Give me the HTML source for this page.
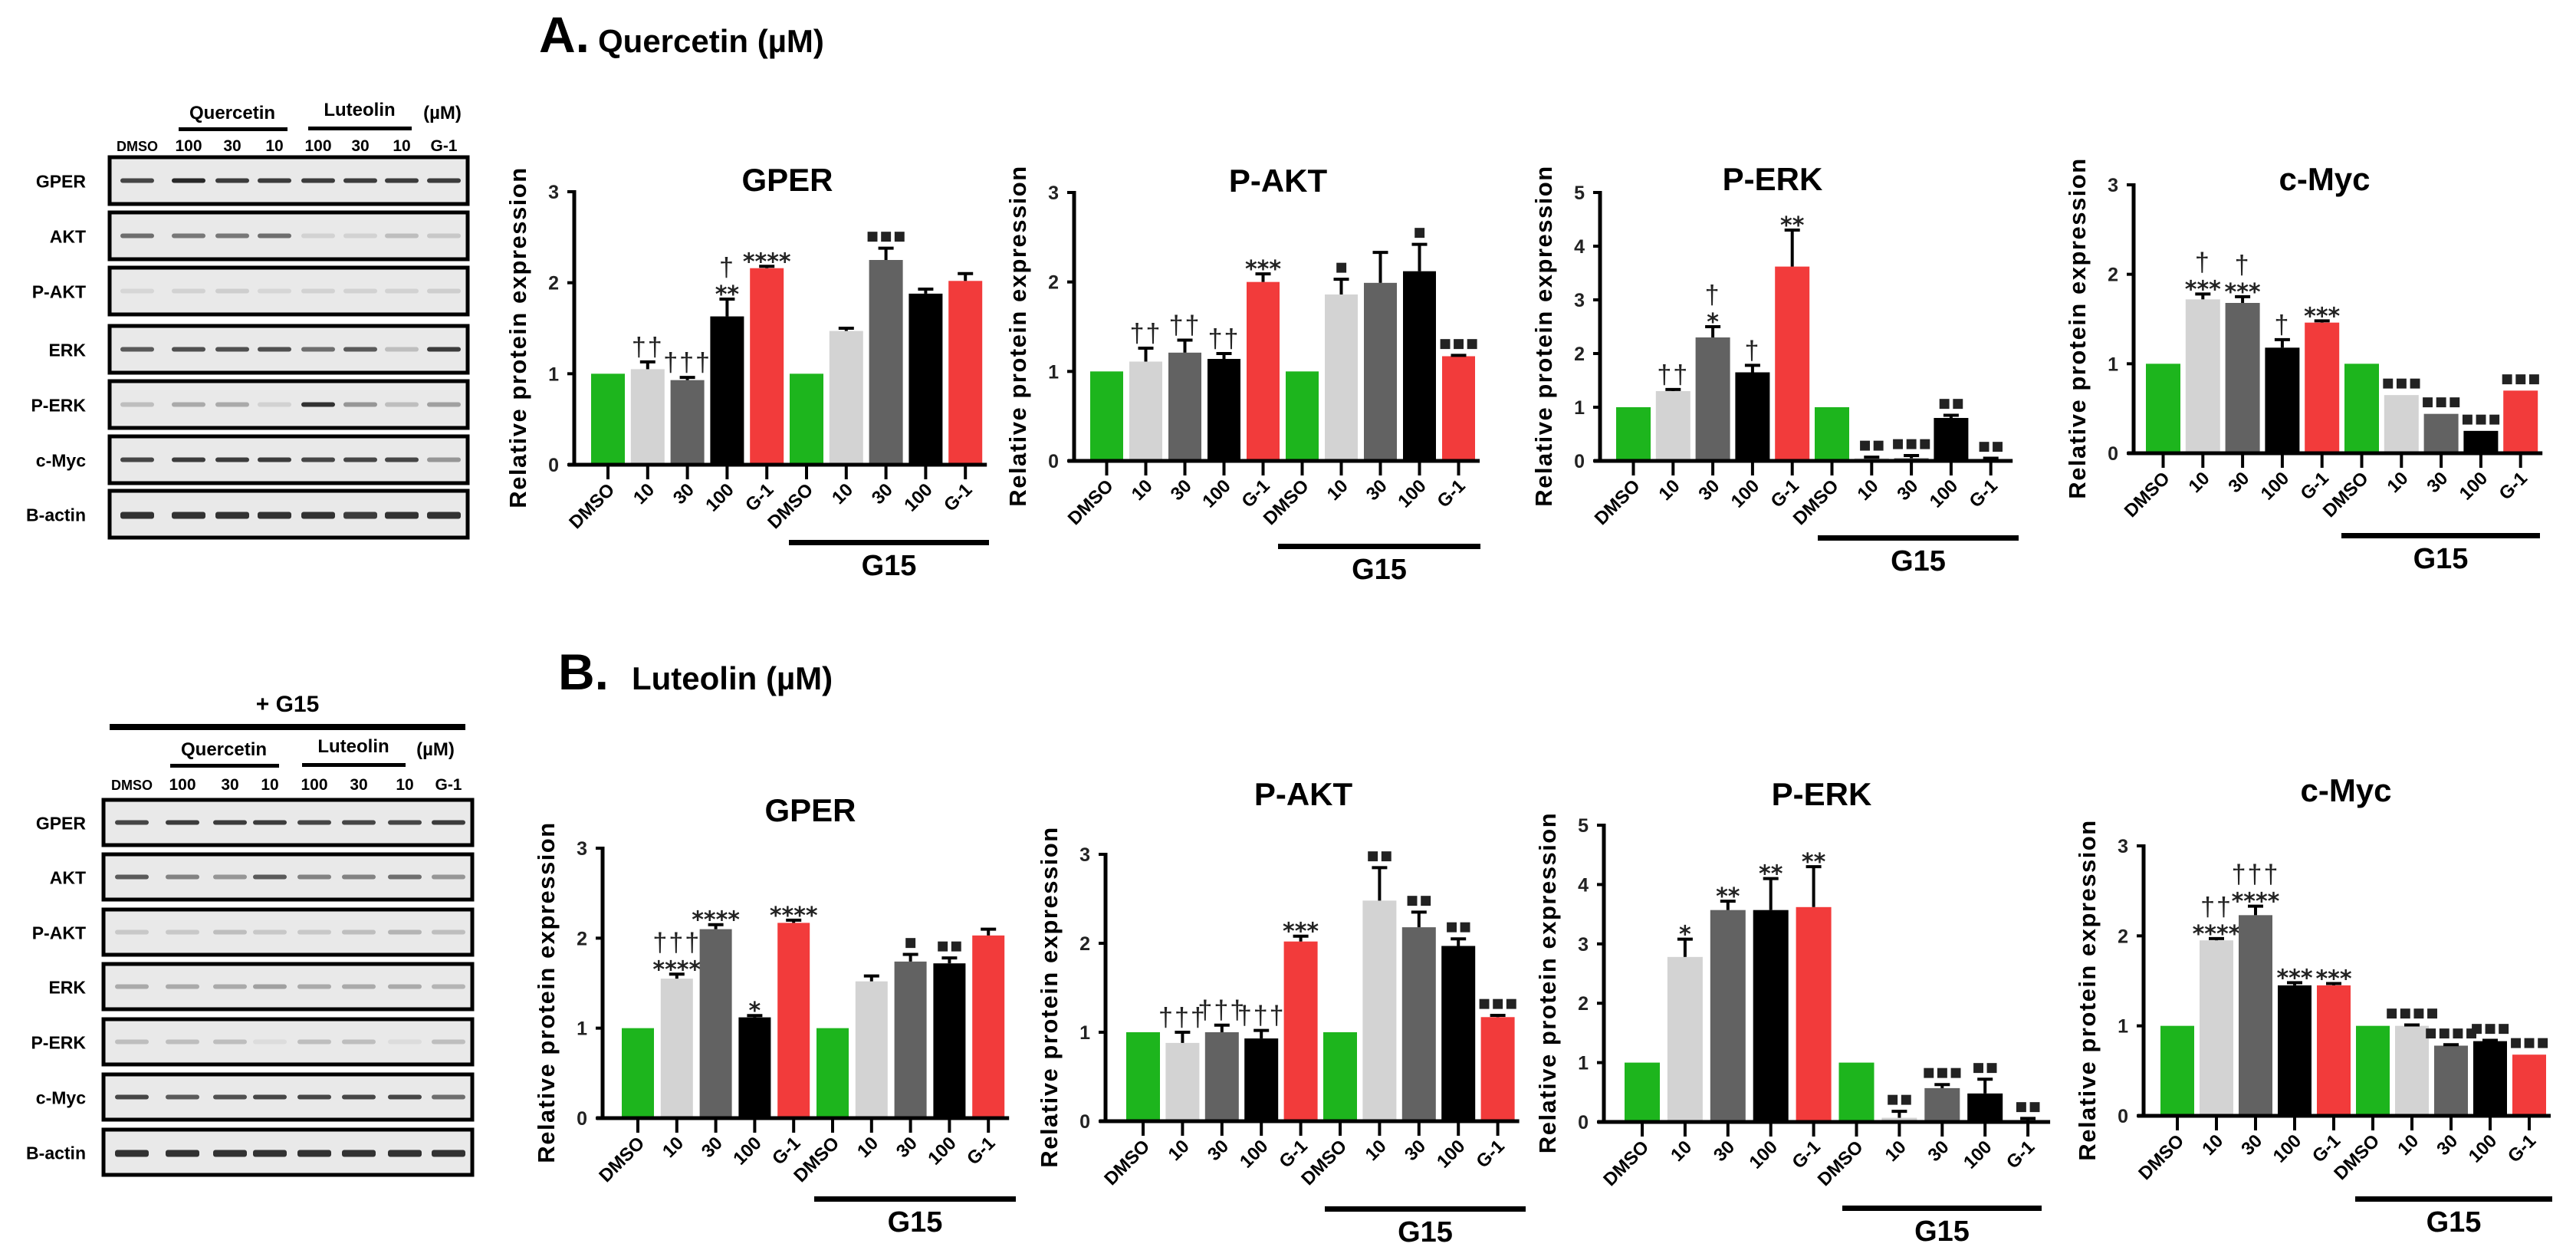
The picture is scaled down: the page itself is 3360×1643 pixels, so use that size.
<!DOCTYPE html>
<html><head><meta charset="utf-8"><style>
html,body{margin:0;padding:0;background:#fff;}
svg{display:block;font-family:"Liberation Sans",Arial,sans-serif;}
</style></head><body>
<svg id="fig" width="3360" height="1643" viewBox="0 0 3360 1643" xmlns="http://www.w3.org/2000/svg">
<rect x="0" y="0" width="3360" height="1643" fill="#fff"/>
<text x="703" y="68" font-size="66" font-weight="bold">A.</text>
<text x="780" y="68" font-size="42" font-weight="bold">Quercetin (µM)</text>
<text x="728" y="899" font-size="66" font-weight="bold">B.</text>
<text x="824" y="899" font-size="42" font-weight="bold">Luteolin (µM)</text>
<g id="blots"></g>
<g id="charts"></g>
</svg>
<script>
// ---------- chart data ----------
const categories = ["DMSO","10","30","100","G-1","DMSO","10","30","100","G-1"];
const barColors = ["#1db51d","#d3d3d3","#626262","#000000","#f23b3b","#1db51d","#d3d3d3","#626262","#000000","#f23b3b"];
const yTicks3 = ["0","1","2","3"];
const yTicks5 = ["0","1","2","3","4","5"];

const aGperVals = [1,1.05,0.93,1.63,2.16,1,1.47,2.25,1.88,2.02];
const aGperErr  = [0,0.08,0.03,0.19,0.02,0,0.03,0.13,0.05,0.08];
const aGperStar = ["","††","†††","**","****","","","▪▪▪","",""];
const aGperTop  = ["","","","†","","","","","",""];

const aPaktVals = [1,1.11,1.21,1.14,2.0,1,1.86,1.99,2.12,1.17];
const aPaktErr  = [0,0.15,0.14,0.06,0.09,0,0.17,0.34,0.3,0.01];
const aPaktStar = ["","††","††","††","***","","▪","","▪","▪▪▪"];
const aPaktTop  = ["","","","","","","","","",""];

const aPerkVals = [1,1.3,2.3,1.65,3.62,1,0.05,0.05,0.8,0.03];
const aPerkErr  = [0,0.03,0.2,0.13,0.68,0,0.02,0.05,0.05,0.02];
const aPerkStar = ["","††","*","†","**","","▪▪","▪▪▪","▪▪","▪▪"];
const aPerkTop  = ["","","†","","","","","","",""];

const aMycVals = [1,1.72,1.68,1.18,1.46,1,0.65,0.44,0.25,0.7];
const aMycErr  = [0,0.06,0.07,0.09,0.02,0,0,0,0,0];
const aMycStar = ["","***","***","†","***","","▪▪▪","▪▪▪","▪▪▪","▪▪▪"];
const aMycTop  = ["","†","†","","","","","","",""];

const bGperVals = [1,1.55,2.1,1.12,2.17,1,1.52,1.74,1.72,2.03];
const bGperErr  = [0,0.05,0.05,0.02,0.03,0,0.06,0.08,0.06,0.07];
const bGperStar = ["","****","****","*","****","","","▪","▪▪",""];
const bGperTop  = ["","†††","","","","","","","",""];

const bPaktVals = [1,0.88,1.0,0.93,2.02,1,2.48,2.18,1.97,1.17];
const bPaktErr  = [0,0.12,0.08,0.09,0.06,0,0.37,0.17,0.08,0.02];
const bPaktStar = ["","†††","†††","†††","***","","▪▪","▪▪","▪▪","▪▪▪"];
const bPaktTop  = ["","","","","","","","","",""];

const bPerkVals = [1,2.78,3.57,3.57,3.62,1,0.07,0.57,0.48,0.03];
const bPerkErr  = [0,0.3,0.15,0.53,0.68,0,0.11,0.06,0.24,0.03];
const bPerkStar = ["","*","**","**","**","","▪▪","▪▪▪","▪▪","▪▪"];
const bPerkTop  = ["","","","","","","","","",""];

const bMycVals = [1,1.95,2.23,1.45,1.45,1,1.0,0.78,0.83,0.68];
const bMycErr  = [0,0.02,0.1,0.03,0.02,0,0.01,0.01,0.01,0];
const bMycStar = ["","****","****","***","***","","▪▪▪▪","▪▪▪▪","▪▪▪","▪▪▪"];
const bMycTop  = ["","††","†††","","","","","","",""];

// ---------- blot data ----------
const blotRows = ["GPER","AKT","P-AKT","ERK","P-ERK","c-Myc","B-actin"];
const laneLabels = ["DMSO","100","30","10","100","30","10","G-1"];
const blotAIntensity = [
 [0.8,0.95,0.85,0.85,0.85,0.85,0.85,0.85],
 [0.6,0.55,0.55,0.6,0.1,0.1,0.2,0.15],
 [0.08,0.1,0.12,0.08,0.1,0.1,0.1,0.12],
 [0.7,0.75,0.75,0.75,0.6,0.7,0.2,0.85],
 [0.2,0.3,0.3,0.1,0.9,0.4,0.2,0.35],
 [0.8,0.85,0.85,0.85,0.8,0.8,0.8,0.4],
 [0.9,0.9,0.9,0.9,0.9,0.85,0.9,0.9]];
const blotBIntensity = [
 [0.8,0.85,0.85,0.85,0.8,0.8,0.8,0.85],
 [0.7,0.5,0.4,0.7,0.5,0.5,0.6,0.4],
 [0.15,0.15,0.2,0.15,0.15,0.2,0.25,0.2],
 [0.3,0.3,0.3,0.35,0.3,0.3,0.3,0.25],
 [0.2,0.2,0.2,0.05,0.2,0.2,0.05,0.2],
 [0.8,0.7,0.75,0.8,0.8,0.8,0.8,0.6],
 [0.9,0.9,0.9,0.9,0.9,0.9,0.9,0.9]];

const NS="http://www.w3.org/2000/svg";
function mk(tag, attrs, parent){const e=document.createElementNS(NS,tag);for(const k in attrs)e.setAttribute(k,attrs[k]);parent.appendChild(e);return e;}

// ---------- blots ----------
const blotG=document.getElementById('blots');
function drawBlot(cfg, intens){
  const g=mk('g',{},blotG);
  
  
  if(cfg.g15){
    const t=mk('text',{x:375,y:cfg.g15y,'font-size':30,'font-weight':'bold','text-anchor':'middle'},g);t.textContent='+ G15';
    
    
    mk('rect',{x:143,y:cfg.g15y+16,width:464,height:8,fill:'#000'},g);
  }
  const q=mk('text',{x:cfg.qx,y:cfg.hy,'font-size':24,'font-weight':'bold','text-anchor':'middle'},g);q.textContent='Quercetin';
  
  
  mk('rect',{x:cfg.qx-70,y:cfg.hy+11,width:142,height:5,fill:'#000'},g);
  const l=mk('text',{x:cfg.lx,y:cfg.hy-4,'font-size':24,'font-weight':'bold','text-anchor':'middle'},g);l.textContent='Luteolin';
  
  
  mk('rect',{x:cfg.lx-67,y:cfg.hy+10,width:135,height:5,fill:'#000'},g);
  const u=mk('text',{x:cfg.ux,y:cfg.hy,'font-size':24,'font-weight':'bold','text-anchor':'middle'},g);u.textContent='(µM)';
  
  
  laneLabels.forEach((s,i)=>{
    const t=mk('text',{x:cfg.lanes[i],y:cfg.laneY,'font-size':i==0?18:21,'font-weight':'bold','text-anchor':'middle'},g);t.textContent=s;
    
    
  });
  blotRows.forEach((r,ri)=>{
    const y=cfg.rowY[ri], h=cfg.rowH;
    const box=mk('rect',{x:cfg.bx,y:y,width:cfg.bw,height:h,fill:'#e9e9e9',stroke:'#000','stroke-width':5},g);
    
    
    const t=mk('text',{x:112,y:y+h/2+9,'font-size':23,'font-weight':'bold','text-anchor':'end'},g);t.textContent=r;
    
    
    intens[ri].forEach((v,li)=>{
      const c=Math.round(230-200*v);
      const b=mk('rect',{x:cfg.lanes[li]-22,y:y+h/2-3,width:44,height:ri==6?9:6,rx:3,fill:`rgb(${c},${c},${c})`},g);
      
      
    });
  });
}
drawBlot({name:'blot-panel-a',g15:false,qx:303,lx:469,ux:577,hy:155,laneY:197,lanes:[179,246,303,358,415,470,524,579],
  bx:143,bw:467,rowH:61,rowY:[205,277,349,425,497,569,640]}, blotAIntensity);
drawBlot({name:'blot-panel-b',g15:true,g15y:928,qx:292,lx:461,ux:568,hy:985,laneY:1030,lanes:[172,238,300,352,410,468,528,585],
  bx:135,bw:481,rowH:59,rowY:[1043,1114,1186,1257,1329,1401,1473]}, blotBIntensity);

// ---------- charts ----------
const chartsG=document.getElementById('charts');
function drawChart(c, vals, errs, stars, tops){
  const g=mk('g',{},chartsG);
  
  
  const ticks=c.max==5?yTicks5:yTicks3;
  const yS=v=>c.y0-(v/c.max)*(c.y0-c.yT);
  const xC=i=>c.b0+i*c.p+c.bw/2;
  const tt=mk('text',{x:c.tx,y:c.ty+15,'font-size':42,'font-weight':'bold','text-anchor':'middle'},g);tt.textContent=c.title;
  
  
  const yt=mk('text',{x:0,y:0,'font-size':31,'font-weight':'bold','text-anchor':'middle','letter-spacing':1.5,transform:`translate(${c.ax-63},${(c.yT+c.y0)/2+12}) rotate(-90)`},g);
  yt.textContent='Relative protein expression';
  
  
  vals.forEach((v,i)=>{
    const r=mk('rect',{x:c.b0+i*c.p,y:yS(v),width:c.bw,height:c.y0-yS(v),fill:barColors[i]},g);
    
    
    const e=errs[i];
    const et=yS(v+e);
    if(e>0){
      mk('line',{x1:xC(i),y1:yS(v),x2:xC(i),y2:et,stroke:'#000','stroke-width':4},g);
      mk('line',{x1:xC(i)-10,y1:et,x2:xC(i)+10,y2:et,stroke:'#000','stroke-width':4},g);
    }
    let base=et-8;
    if(stars[i]){
      const sq=stars[i].indexOf('▪')>=0;
      const dg=stars[i].indexOf('†')>=0;
      const attrs=sq?{x:xC(i),y:base,'font-size':26,'font-weight':'bold','text-anchor':'middle','font-family':'"DejaVu Sans",sans-serif',fill:'#222'}
        : dg?{x:xC(i),y:base,'font-size':34,'text-anchor':'middle','letter-spacing':2,fill:'#222'}
        : {x:xC(i),y:base+12,'font-size':30,'font-weight':'bold','text-anchor':'middle','font-family':'"DejaVu Sans",sans-serif',fill:'#222'};
      const s=mk('text',attrs,g);
      s.textContent=stars[i];
      
      
      base-=sq?20:(dg?30:22);
    }
    if(tops[i]){
      const s=mk('text',{x:xC(i),y:base,'font-size':34,'text-anchor':'middle','letter-spacing':2,fill:'#222'},g);
      s.textContent=tops[i];
      
      
    }
  });
  const xEnd=c.b0+9*c.p+c.bw+6;
  mk('line',{x1:c.ax,y1:c.yT-2,x2:c.ax,y2:c.y0+2,stroke:'#000','stroke-width':5},g);
  mk('line',{x1:c.ax-8,y1:c.y0,x2:xEnd,y2:c.y0,stroke:'#000','stroke-width':5},g);
  ticks.forEach((t,k)=>{
    const y=yS(+t);
    mk('line',{x1:c.ax-9,y1:y,x2:c.ax,y2:y,stroke:'#000','stroke-width':4},g);
    const tl=mk('text',{x:c.ax-20,y:y+9,'font-size':25,'font-weight':'bold','text-anchor':'end',fill:'#222'},g);tl.textContent=t;
    
    
  });
  categories.forEach((s,i)=>{
    mk('line',{x1:xC(i),y1:c.y0,x2:xC(i),y2:c.y0+19,stroke:'#000','stroke-width':4},g);
    const tl=mk('text',{x:0,y:0,'font-size':24,'font-weight':'bold','text-anchor':'end',transform:`translate(${xC(i)+10},${c.y0+34}) rotate(-45)`},g);
    tl.textContent=s;
    
    
  });
  const gl=mk('rect',{x:c.gx1,y:c.gy-3,width:c.gx2-c.gx1,height:7,fill:'#000'},g);
  
  
  const gt=mk('text',{x:(c.gx1+c.gx2)/2,y:c.gy+43,'font-size':38,'font-weight':'bold','text-anchor':'middle'},g);gt.textContent='G15';
  
  
}
drawChart({name:'chart-a-gper',title:'GPER',ax:749,y0:606,yT:250,max:3,b0:771,p:51.8,bw:44,tx:1027,ty:234,gx1:1029,gx2:1290,gy:707},aGperVals,aGperErr,aGperStar,aGperTop);
drawChart({name:'chart-a-pakt',title:'P-AKT',ax:1401,y0:601,yT:251,max:3,b0:1422,p:51.0,bw:43,tx:1667,ty:235,gx1:1667,gx2:1931,gy:712},aPaktVals,aPaktErr,aPaktStar,aPaktTop);
drawChart({name:'chart-a-perk',title:'P-ERK',ax:2087,y0:601,yT:251,max:5,b0:2108,p:51.8,bw:45,tx:2312,ty:233,gx1:2371,gx2:2633,gy:701},aPerkVals,aPerkErr,aPerkStar,aPerkTop);
drawChart({name:'chart-a-cmyc',title:'c-Myc',ax:2783,y0:591,yT:241,max:3,b0:2799,p:51.8,bw:45,tx:3032,ty:233,gx1:3054,gx2:3313,gy:698},aMycVals,aMycErr,aMycStar,aMycTop);
drawChart({name:'chart-b-gper',title:'GPER',ax:786,y0:1458,yT:1106,max:3,b0:811,p:50.8,bw:42,tx:1057,ty:1056,gx1:1062,gx2:1325,gy:1563},bGperVals,bGperErr,bGperStar,bGperTop);
drawChart({name:'chart-b-pakt',title:'P-AKT',ax:1442,y0:1462,yT:1114,max:3,b0:1469,p:51.4,bw:44,tx:1700,ty:1035,gx1:1728,gx2:1990,gy:1576},bPaktVals,bPaktErr,bPaktStar,bPaktTop);
drawChart({name:'chart-b-perk',title:'P-ERK',ax:2092,y0:1463,yT:1076,max:5,b0:2119,p:55.9,bw:46,tx:2376,ty:1035,gx1:2403,gx2:2663,gy:1575},bPerkVals,bPerkErr,bPerkStar,bPerkTop);
drawChart({name:'chart-b-cmyc',title:'c-Myc',ax:2796,y0:1455,yT:1103,max:3,b0:2818,p:51.0,bw:44,tx:3060,ty:1030,gx1:3072,gx2:3329,gy:1563},bMycVals,bMycErr,bMycStar,bMycTop);
</script>
</body></html>
